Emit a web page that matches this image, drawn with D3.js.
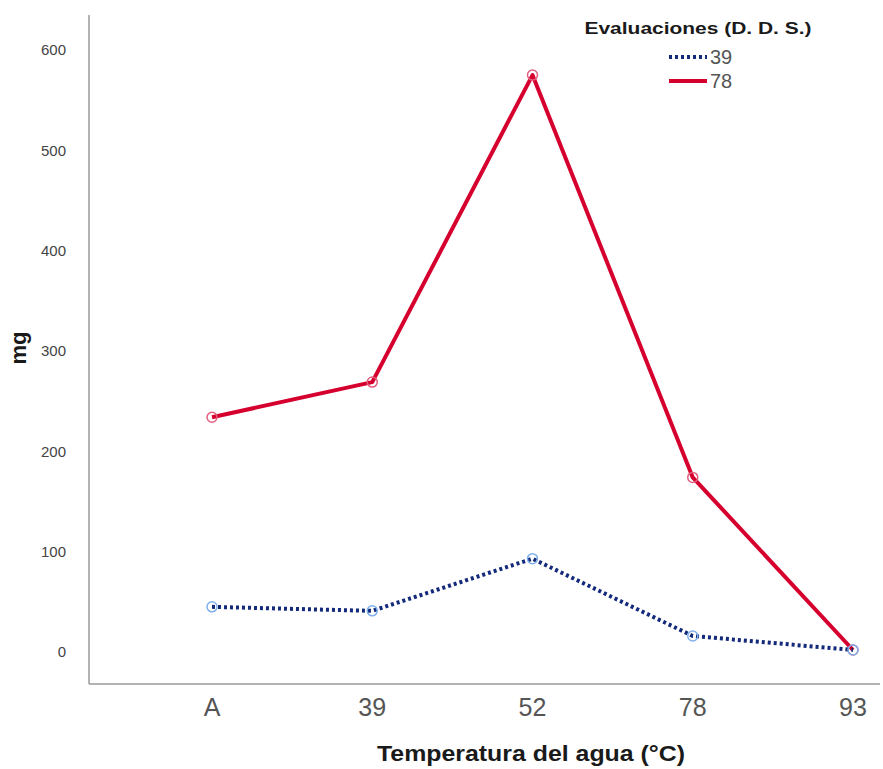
<!DOCTYPE html>
<html>
<head>
<meta charset="utf-8">
<script src="https://cdn.jsdelivr.net/npm/d3@7"></script>
<style>
  body { margin: 0; background: #fff; }
  svg { display: block; }
</style>
</head>
<body>
<svg id="chart" width="883" height="769"></svg>
<script>
// Temperature categories on the x axis
const categories = ["A", "39", "52", "78", "93"];
// Mean mg per evaluation (D. D. S.)
const series39 = [45, 41, 93, 16, 2];
const series78 = [234, 269, 575, 174, 2];
const yTicks = [0, 100, 200, 300, 400, 500, 600];
const legendTitle = "Evaluaciones (D. D. S.)";
const seriesNames = ["39", "78"];

const svg = d3.select("#chart");
const plotLeft = 89, plotRight = 880, plotTop = 15, plotBottom = 684;
const font = "Liberation Sans, Arial, sans-serif";

const x = d3.scalePoint().domain(categories).range([212, 853]);
const y = d3.scaleLinear().domain([0, 600]).range([652, 50]);

// Axis lines
svg.append("line").attr("x1", plotLeft).attr("x2", plotLeft).attr("y1", plotTop).attr("y2", plotBottom)
  .attr("stroke", "#9a9a9a").attr("stroke-width", 1.5);
svg.append("line").attr("x1", plotLeft).attr("x2", plotRight).attr("y1", plotBottom).attr("y2", plotBottom)
  .attr("stroke", "#9a9a9a").attr("stroke-width", 1.5);

// Y tick labels
svg.append("g").selectAll("text").data(yTicks).join("text")
  .attr("x", 66).attr("y", d => y(d)).attr("dy", "0.35em")
  .attr("text-anchor", "end")
  .attr("font-family", font)
  .attr("font-size", 15).attr("fill", "#444")
  .text(d => d);

// X tick labels
svg.append("g").selectAll("text").data(categories).join("text")
  .attr("x", d => x(d)).attr("y", 716)
  .attr("text-anchor", "middle")
  .attr("font-family", font)
  .attr("font-size", 25).attr("fill", "#555")
  .text(d => d);

// Axis titles
svg.append("text").attr("x", 531).attr("y", 761)
  .attr("text-anchor", "middle")
  .attr("font-family", font)
  .attr("font-weight", "bold").attr("font-size", 22).attr("fill", "#1a1a1a")
  .attr("textLength", 308).attr("lengthAdjust", "spacingAndGlyphs")
  .text("Temperatura del agua (°C)");
svg.append("text").attr("transform", "translate(26,348) rotate(-90)")
  .attr("text-anchor", "middle")
  .attr("font-family", font)
  .attr("font-weight", "bold").attr("font-size", 22).attr("fill", "#1a1a1a")
  .text("mg");

const line = d3.line().x((d, i) => x(categories[i])).y(d => y(d));

// Series 78: solid red
svg.append("path").datum(series78).attr("d", line)
  .attr("fill", "none").attr("stroke", "#d6002f").attr("stroke-width", 4)
  .attr("stroke-linejoin", "round");
svg.append("g").selectAll("circle").data(series78).join("circle")
  .attr("cx", (d, i) => x(categories[i])).attr("cy", d => y(d)).attr("r", 5)
  .attr("fill", "none").attr("stroke", "#e0607e").attr("stroke-width", 1.5);

// Series 39: dotted navy
svg.append("path").datum(series39).attr("d", line)
  .attr("fill", "none").attr("stroke", "#13297a").attr("stroke-width", 4)
  .attr("stroke-dasharray", "3,3");
svg.append("g").selectAll("circle").data(series39).join("circle")
  .attr("cx", (d, i) => x(categories[i])).attr("cy", d => y(d)).attr("r", 5)
  .attr("fill", "none").attr("stroke", "#7fb0ec").attr("stroke-width", 1.5);

// Legend
svg.append("text").attr("x", 698).attr("y", 34)
  .attr("text-anchor", "middle")
  .attr("font-family", font)
  .attr("font-weight", "bold").attr("font-size", 16.5).attr("fill", "#1a1a1a")
  .attr("textLength", 227).attr("lengthAdjust", "spacingAndGlyphs")
  .text(legendTitle);
const legendStyles = [
  { stroke: "#13297a", dash: "3,3" },
  { stroke: "#d6002f", dash: null }
];
seriesNames.forEach((name, i) => {
  const ly = 57 + i * 24;
  svg.append("line").attr("x1", 669).attr("x2", 707).attr("y1", ly).attr("y2", ly)
    .attr("stroke", legendStyles[i].stroke).attr("stroke-width", 4)
    .attr("stroke-dasharray", legendStyles[i].dash);
  svg.append("text").attr("x", 710).attr("y", ly + 7)
    .attr("font-family", font)
    .attr("font-size", 20).attr("fill", "#555")
    .text(name);
});
</script>
</body>
</html>
